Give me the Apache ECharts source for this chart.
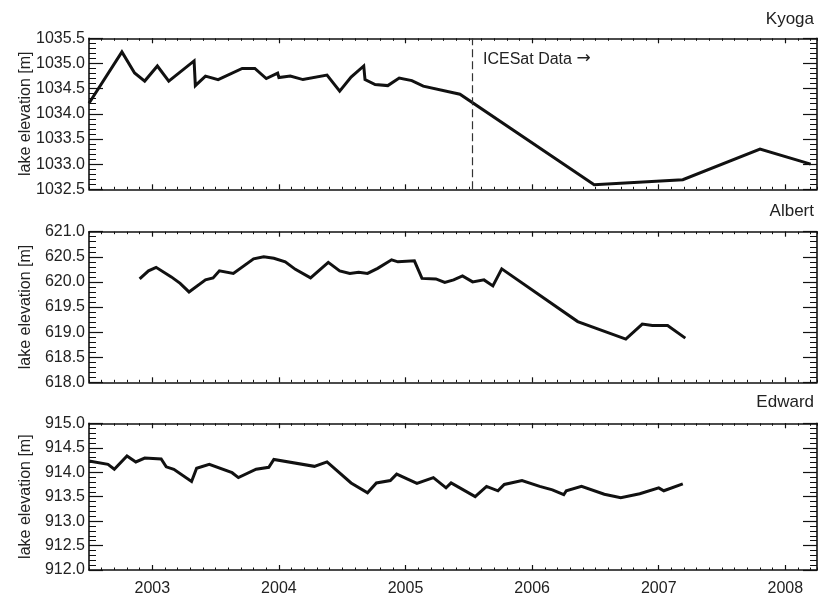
<!DOCTYPE html>
<html>
<head>
<meta charset="utf-8">
<title>Lake elevations: Kyoga, Albert, Edward</title>
<script src="https://cdn.jsdelivr.net/npm/echarts@6/dist/echarts.min.js"></script>
<style>
  html, body { margin: 0; padding: 0; background: #fff; }
  #chart { width: 825px; height: 597px; }
</style>
</head>
<body>
<div id="chart"></div>
<script>
// Decimal-year dates and lake surface elevations (m)
const kyogaDates = [2002.50, 2002.76, 2002.86, 2002.94, 2003.04, 2003.13, 2003.33, 2003.34, 2003.42, 2003.52,
  2003.71, 2003.81, 2003.90, 2003.99, 2004.00, 2004.09, 2004.19, 2004.38, 2004.48, 2004.57,
  2004.67, 2004.68, 2004.76, 2004.86, 2004.95, 2005.05, 2005.14, 2005.43, 2006.49, 2007.19,
  2007.80, 2008.20];
const kyogaElev = [1034.21, 1035.23, 1034.81, 1034.65, 1034.95, 1034.65, 1035.05, 1034.56, 1034.75, 1034.68,
  1034.90, 1034.90, 1034.70, 1034.81, 1034.72, 1034.75, 1034.68, 1034.77, 1034.45, 1034.73,
  1034.95, 1034.68, 1034.58, 1034.56, 1034.71, 1034.66, 1034.55, 1034.39, 1032.59, 1032.69,
  1033.30, 1033.00];

const albertDates = [2002.90, 2002.97, 2003.03, 2003.15, 2003.22, 2003.29, 2003.42, 2003.48, 2003.53, 2003.64,
  2003.80, 2003.88, 2003.96, 2004.05, 2004.13, 2004.25, 2004.39, 2004.48, 2004.56, 2004.63,
  2004.70, 2004.78, 2004.89, 2004.94, 2005.07, 2005.13, 2005.24, 2005.31, 2005.38, 2005.45,
  2005.53, 2005.62, 2005.69, 2005.76, 2006.36, 2006.74, 2006.87, 2006.95, 2007.07, 2007.21];
const albertElev = [620.06, 620.22, 620.29, 620.10, 619.97, 619.80, 620.04, 620.08, 620.22, 620.17,
  620.46, 620.50, 620.47, 620.40, 620.25, 620.08, 620.39, 620.22, 620.17, 620.19,
  620.17, 620.27, 620.44, 620.40, 620.42, 620.07, 620.06, 619.99, 620.04, 620.12,
  620.00, 620.04, 619.92, 620.26, 619.21, 618.86, 619.16, 619.13, 619.13, 618.88];

const edwardDates = [2002.50, 2002.65, 2002.70, 2002.80, 2002.87, 2002.94, 2003.07, 2003.11, 2003.17, 2003.31,
  2003.35, 2003.45, 2003.63, 2003.68, 2003.82, 2003.92, 2003.96, 2004.28, 2004.38, 2004.57,
  2004.70, 2004.77, 2004.88, 2004.93, 2005.09, 2005.22, 2005.32, 2005.36, 2005.55, 2005.64,
  2005.73, 2005.78, 2005.92, 2006.06, 2006.16, 2006.25, 2006.27, 2006.39, 2006.57, 2006.70,
  2006.85, 2007.00, 2007.04, 2007.19];
const edwardElev = [914.23, 914.16, 914.06, 914.33, 914.21, 914.29, 914.27, 914.11, 914.06, 913.81,
  914.08, 914.16, 913.99, 913.89, 914.06, 914.10, 914.26, 914.12, 914.21, 913.78,
  913.58, 913.78, 913.83, 913.96, 913.77, 913.89, 913.68, 913.78, 913.50, 913.71,
  913.62, 913.75, 913.83, 913.71, 913.64, 913.54, 913.62, 913.71, 913.55, 913.48,
  913.56, 913.68, 913.62, 913.76];

const yearTicks = [2003, 2004, 2005, 2006, 2007, 2008];
const lakeNames = ['Kyoga', 'Albert', 'Edward'];
const yRanges = [[1032.5, 1035.5], [618.0, 621.0], [912.0, 915.0]];
const icesatStart = 2005.53;

const X_MIN = 2002.5, X_MAX = 2008.25;
const FONT = 'Liberation Sans, Arial, Helvetica, sans-serif';
const INK = '#111';
const TEXT = '#222';

const panels = [
  { top: 38.3, height: 151 },
  { top: 231.7, height: 150.6 },
  { top: 423.3, height: 151.7 }
];

function zip(xs, ys) { return xs.map((x, i) => [x, ys[i]]); }

const grids = panels.map(p => ({ left: 89, width: 728, top: p.top, height: p.height, containLabel: false }));

const xAxes = [];
const yAxes = [];
panels.forEach((p, g) => {
  const base = { gridIndex: g, type: 'value', min: X_MIN, max: X_MAX, splitLine: { show: false } };
  const lineOn = { show: true, onZero: false, lineStyle: { color: INK, width: 1.6 } };
  const majorTick = { show: true, inside: true, length: 5, customValues: yearTicks, lineStyle: { color: INK, width: 1.2 } };
  const minorTickStyle = { show: true, inside: true, length: 2.5, lineStyle: { color: INK, width: 1 } };
  xAxes.push(Object.assign({}, base, {
    position: 'bottom', axisLine: lineOn, axisTick: majorTick,
    axisLabel: { show: g === 2, customValues: yearTicks, margin: 11, fontSize: 16, color: TEXT, fontFamily: FONT,
      formatter: v => String(Math.round(v)) }
  }));
  xAxes.push(Object.assign({}, base, {
    position: 'top', axisLine: lineOn, axisTick: majorTick, axisLabel: { show: false }
  }));
  xAxes.push(Object.assign({}, base, {
    position: 'bottom', interval: 0.1, axisLine: { show: false }, axisTick: minorTickStyle, axisLabel: { show: false }
  }));
  xAxes.push(Object.assign({}, base, {
    position: 'top', interval: 0.1, axisLine: { show: false }, axisTick: minorTickStyle, axisLabel: { show: false }
  }));

  const yBase = {
    gridIndex: g, type: 'value', min: yRanges[g][0], max: yRanges[g][1], interval: 0.5,
    splitLine: { show: false },
    axisLine: { show: true, onZero: false, lineStyle: { color: INK, width: 1.6 } },
    axisTick: { show: true, inside: true, length: 14, lineStyle: { color: INK, width: 1.2 } },
    minorTick: { show: true, splitNumber: 5, length: 7, lineStyle: { color: INK, width: 1 } }
  };
  yAxes.push(Object.assign({}, yBase, {
    position: 'left',
    name: 'lake elevation [m]', nameLocation: 'middle', nameGap: 55, nameRotate: 90,
    nameMoveOverlap: false,
    nameTextStyle: { fontSize: 16, color: TEXT, fontFamily: FONT },
    axisLabel: { show: true, margin: 4, fontSize: 16, color: TEXT, fontFamily: FONT, formatter: v => v.toFixed(1) }
  }));
  yAxes.push(Object.assign({}, yBase, { position: 'right', axisLabel: { show: false } }));
});

const lineStyle = { color: INK, width: 3, join: 'miter' };
const series = [
  {
    name: 'Kyoga', type: 'line', xAxisIndex: 0, yAxisIndex: 0, data: zip(kyogaDates, kyogaElev),
    showSymbol: false, symbol: 'none', lineStyle, clip: true,
    markLine: {
      silent: true, symbol: ['none', 'none'], label: { show: false },
      lineStyle: { type: [8, 4], color: '#333', width: 1.2 },
      data: [{ xAxis: icesatStart }]
    }
  },
  { name: 'Albert', type: 'line', xAxisIndex: 4, yAxisIndex: 2, data: zip(albertDates, albertElev),
    showSymbol: false, symbol: 'none', lineStyle, clip: true },
  { name: 'Edward', type: 'line', xAxisIndex: 8, yAxisIndex: 4, data: zip(edwardDates, edwardElev),
    showSymbol: false, symbol: 'none', lineStyle, clip: true }
];

const titleCenters = [19.5, 211.7, 402.5];
const titles = lakeNames.map((n, i) => ({
  text: n, right: 11, top: titleCenters[i] - 9, padding: 0,
  textStyle: { fontSize: 17, fontWeight: 'normal', color: TEXT, fontFamily: FONT }
}));

const chart = echarts.init(document.getElementById('chart'), null, { renderer: 'canvas' });
chart.setOption({
  animation: false,
  backgroundColor: '#fff',
  title: titles,
  grid: grids,
  xAxis: xAxes,
  yAxis: yAxes,
  series: series,
  graphic: [{
    type: 'text', left: 483, top: 50,
    style: {
      text: 'ICESat Data {arr|\u2192}',
      font: '16px ' + FONT, fill: TEXT,
      rich: { arr: { fontFamily: 'DejaVu Sans', fontSize: 17, fill: TEXT, padding: [0, 0, 2, 0] } }
    }
  }]
});
</script>
</body>
</html>
